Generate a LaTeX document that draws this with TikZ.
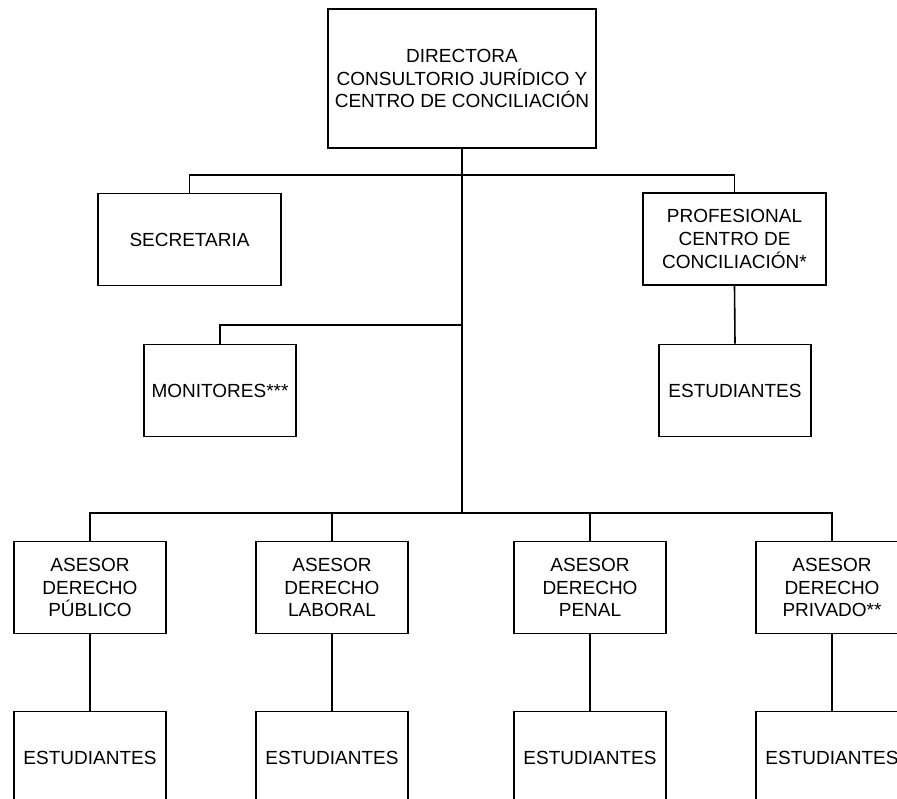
\documentclass[tikz,border=0pt]{standalone}
\usepackage{fontspec}
\setmainfont{Liberation Sans}
\usetikzlibrary{positioning}

\begin{document}
\begin{tikzpicture}[x=1pt, y=-1pt,
			box/.style={draw=black, line width=1.6pt, align=center, inner sep=0pt,
				minimum width=152pt, minimum height=92pt,
				font=\fontsize{19}{22.8}\selectfont},
			link/.style={draw=black, line width=1.6pt},
			trunk/.style={draw=black, line width=2.6pt}]
			
			\clip (0,0) rectangle (897,798);
			
			\node[box, minimum width=268pt, minimum height=139pt] (dir) at (462,78.5) {DIRECTORA\\CONSULTORIO JUR\'IDICO Y\\CENTRO DE CONCILIACI\'ON};
			\node[box, minimum width=183pt] (sec) at (189.5,239.5) {SECRETARIA};
			\node[box, minimum width=183pt] (prof) at (734.5,239) {PROFESIONAL\\CENTRO DE\\CONCILIACI\'ON*};
			\node[box] (mon) at (220,390.5) {MONITORES***};
			\node[box] (estprof) at (735,390.5) {ESTUDIANTES};
			
			\node[box] (pub) at (90,587.5) {ASESOR\\DERECHO\\P\'UBLICO};
			\node[box] (lab) at (332,587.5) {ASESOR\\DERECHO\\LABORAL};
			\node[box] (pen) at (590,587.5) {ASESOR\\DERECHO\\PENAL};
			\node[box] (priv) at (832,587.5) {ASESOR\\DERECHO\\PRIVADO**};
			
			\node[box] (estpub) at (90,757.5) {ESTUDIANTES};
			\node[box] (estlab) at (332,757.5) {ESTUDIANTES};
			\node[box] (estpen) at (590,757.5) {ESTUDIANTES};
			\node[box] (estpriv) at (832,757.5) {ESTUDIANTES};
			
			\coordinate (top) at (462,175);
			\coordinate (mid) at (462,325);
			\coordinate (low) at (462,513);
			
			\draw[trunk] (dir.south) -- (low);
			\draw[link] (sec.north) |- (top) -| (prof.north);
			\draw[link] (mon.north) |- (mid);
			\draw[link] (prof.south) -- (estprof.north);
			\draw[link] (pub.north) |- (low) -| (priv.north);
			\draw[link] (lab.north) -- (lab.north |- low);
			\draw[link] (pen.north) -- (pen.north |- low);
			\draw[trunk] (low) -- (pen.north |- low);
			\draw[link] (pub.south) -- (estpub.north);
			\draw[link] (lab.south) -- (estlab.north);
			\draw[link] (pen.south) -- (estpen.north);
			\draw[link] (priv.south) -- (estpriv.north);
		\end{tikzpicture}
\end{document}
